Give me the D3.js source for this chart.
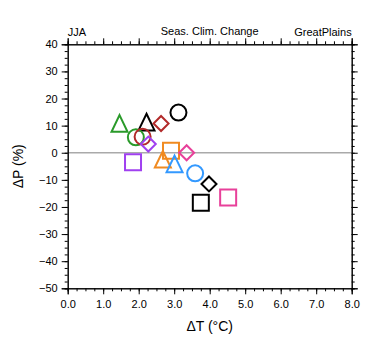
<!DOCTYPE html>
<html><head><meta charset="utf-8">
<script src="https://cdn.jsdelivr.net/npm/d3@7"></script>
<style>body{margin:0;background:#fff}text{font-family:"Liberation Sans",Arial,sans-serif}</style>
</head><body><svg id="c" width="380" height="355"></svg>
<script>
const markers = ["triangle","triangle","diamond","circle","circle","circle","diamond","square","square","triangle","triangle","diamond","circle","diamond","square","square"];
const colors  = ["#2a9a2a","#000000","#b22a2a","#000000","#2a9a2a","#b22a2a","#a040f0","#a040f0","#f08a20","#f08a20","#3399ff","#e8409a","#3399ff","#000000","#000000","#e8409a"];
const dT = [1.46,2.22,2.63,3.12,1.92,2.11,2.27,1.84,2.91,2.68,3.01,3.35,3.59,3.98,3.75,4.52];
const dP = [10.8,11.3,10.8,14.8,5.7,5.9,3.2,-3.5,0.7,-2.4,-4.1,0.0,-7.6,-11.5,-18.4,-16.5];
const xTicks = [0,1,2,3,4,5,6,7,8];
const yTicks = [-50,-40,-30,-20,-10,0,10,20,30,40];

const svg = d3.select("#c");
const L=67.7,R=351.7,T=44.3,B=288.3;
const x = d3.scaleLinear().domain([0,8]).range([L,R]);
const y = d3.scaleLinear().domain([-50,40]).range([B,T]);

// zero line
svg.append("line").attr("x1",L).attr("x2",R).attr("y1",y(0)).attr("y2",y(0))
  .attr("stroke","#aaaaaa").attr("stroke-width",1.5);

const xMinor = d3.range(0,8.001,0.25);
const yMinor = d3.range(-50,40.001,2.5);
const fmt = d3.format(".1f");

const bx = svg.append("g").attr("transform",`translate(0,${B})`)
  .call(d3.axisBottom(x).tickValues(xTicks).tickFormat(fmt).tickSize(6).tickPadding(6));
const tx = svg.append("g").attr("transform",`translate(0,${T})`)
  .call(d3.axisTop(x).tickValues(xTicks).tickFormat("").tickSize(6));
const ly = svg.append("g").attr("transform",`translate(${L},0)`)
  .call(d3.axisLeft(y).tickValues(yTicks).tickSize(6).tickPadding(4));
const ry = svg.append("g").attr("transform",`translate(${R},0)`)
  .call(d3.axisRight(y).tickValues(yTicks).tickFormat("").tickSize(6));
svg.append("g").attr("transform",`translate(0,${B})`).call(d3.axisBottom(x).tickValues(xMinor).tickFormat("").tickSize(3));
svg.append("g").attr("transform",`translate(0,${T})`).call(d3.axisTop(x).tickValues(xMinor).tickFormat("").tickSize(3));
svg.append("g").attr("transform",`translate(${L},0)`).call(d3.axisLeft(y).tickValues(yMinor).tickFormat("").tickSize(3));
svg.append("g").attr("transform",`translate(${R},0)`).call(d3.axisRight(y).tickValues(yMinor).tickFormat("").tickSize(3));
svg.selectAll(".domain").attr("stroke","#000").attr("stroke-width",1);
svg.selectAll(".tick line").attr("stroke","#000");
svg.selectAll(".tick text").attr("font-size",11).attr("fill","#000").attr("font-family","Liberation Sans, Arial, sans-serif");

// titles
svg.append("text").attr("x",L).attr("y",36).attr("font-size",11).text("JJA");
svg.append("text").attr("x",(L+R)/2).attr("y",35).attr("font-size",11).attr("text-anchor","middle").text("Seas. Clim. Change");
svg.append("text").attr("x",R).attr("y",36).attr("font-size",11).attr("text-anchor","end").text("GreatPlains");
svg.append("text").attr("x",(L+R)/2).attr("y",331).attr("font-size",14).attr("text-anchor","middle").text("\u0394T (\u00B0C)");
svg.append("text").attr("transform",`translate(23,${(T+B)/2}) rotate(-90)`).attr("font-size",14).attr("text-anchor","middle").text("\u0394P (%)");

function shape(m){
  if(m==="square") return "M-8,-8H8V8H-8Z";
  if(m==="circle") return "M8,0A8,8 0 1,1 -8,0A8,8 0 1,1 8,0Z";
  if(m==="diamond") return "M0,-7.5L7.5,0L0,7.5L-7.5,0Z";
  return "M0,-8.3L8,8.3H-8Z";
}
const data = dT.map((v,i)=>({t:v,p:dP[i],m:markers[i],c:colors[i]}));
svg.append("g").selectAll("path").data(data).join("path")
  .attr("transform",d=>`translate(${x(d.t)},${y(d.p)})`)
  .attr("d",d=>shape(d.m)).attr("fill","none").attr("stroke",d=>d.c).attr("stroke-width",2);
</script></body></html>
